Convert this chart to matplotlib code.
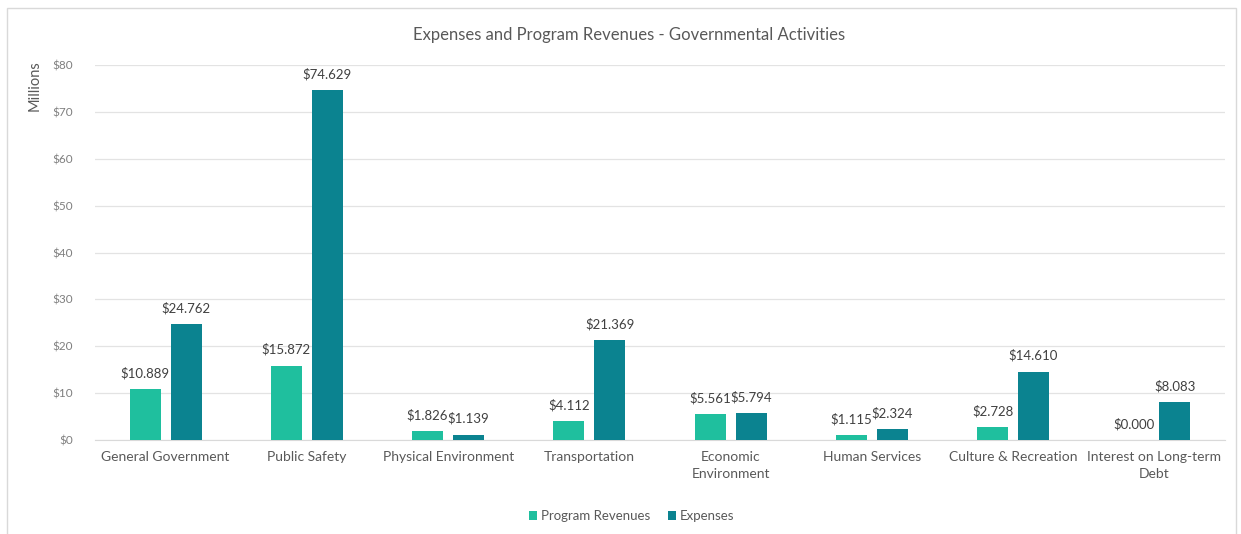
import matplotlib
matplotlib.use("Agg")
import matplotlib.pyplot as plt
import numpy as np
from matplotlib.patches import Rectangle

plt.rcParams["font.family"] = ["Lato", "DejaVu Sans"]

# ─── Data ───
categories = ["General Government", "Public Safety", "Physical Environment",
              "Transportation", "Economic\nEnvironment", "Human Services",
              "Culture & Recreation", "Interest on Long-term\nDebt"]
program_revenues = [10.889, 15.872, 1.826, 4.112, 5.561, 1.115, 2.728, 0.000]
expenses = [24.762, 74.629, 1.139, 21.369, 5.794, 2.324, 14.610, 8.083]
yticks = [0, 10, 20, 30, 40, 50, 60, 70, 80]

REV_COLOR = "#1fbf9e"
EXP_COLOR = "#0b8390"
TXT = "#595959"

fig = plt.figure(figsize=(12.41, 5.34), dpi=100, facecolor="white")
# outer chart frame
fig.patches.append(Rectangle((0.006, -0.01), 0.99, 0.995, transform=fig.transFigure,
                             fill=False, edgecolor="#d9d9d9", lw=1.0))
ax = fig.add_axes([0.0766, 0.176, 0.9104, 0.702])

x = np.arange(len(categories))
w = 0.22
gap = 0.035
b1 = ax.bar(x - w / 2 - gap, program_revenues, w, color=REV_COLOR, label="Program Revenues", zorder=3)
b2 = ax.bar(x + w / 2 + gap, expenses, w, color=EXP_COLOR, label="Expenses", zorder=3)

for bars in (b1, b2):
    for r in bars:
        h = r.get_height()
        ax.annotate(f"${h:.3f}", (r.get_x() + r.get_width() / 2, h),
                    textcoords="offset points", xytext=(0, 7), ha="center", va="bottom",
                    fontsize=9.5, color="#404040")

ax.set_xlim(-0.5, len(categories) - 0.5)
ax.set_ylim(0, 80)
ax.set_yticks(yticks)
ax.set_yticklabels([f"${v}" for v in yticks], fontsize=8.5, color="#7f7f7f")
ax.set_xticks(x)
ax.set_xticklabels(categories, fontsize=10, color=TXT, linespacing=1.5)
ax.tick_params(axis="x", length=0, pad=8)
ax.tick_params(axis="y", length=0, pad=16)
ax.grid(axis="y", color="#e3e3e3", lw=0.9, zorder=0)
for s in ("top", "right", "left"):
    ax.spines[s].set_visible(False)
ax.spines["bottom"].set_color("#d9d9d9")
ax.set_ylabel("Millions", fontsize=10.5, color=TXT)
ax.yaxis.set_label_coords(-0.047, 0.945)

fig.text(0.507, 0.935, "Expenses and Program Revenues - Governmental Activities",
         ha="center", va="center", fontsize=12, color=TXT)

ax.legend(loc="upper center", bbox_to_anchor=(0.475, -0.155), ncol=2, frameon=False,
          fontsize=9.5, handlelength=0.6, handleheight=0.6, handletextpad=0.3,
          columnspacing=1.4, labelcolor=TXT)

fig.savefig("out.png", dpi=100)
